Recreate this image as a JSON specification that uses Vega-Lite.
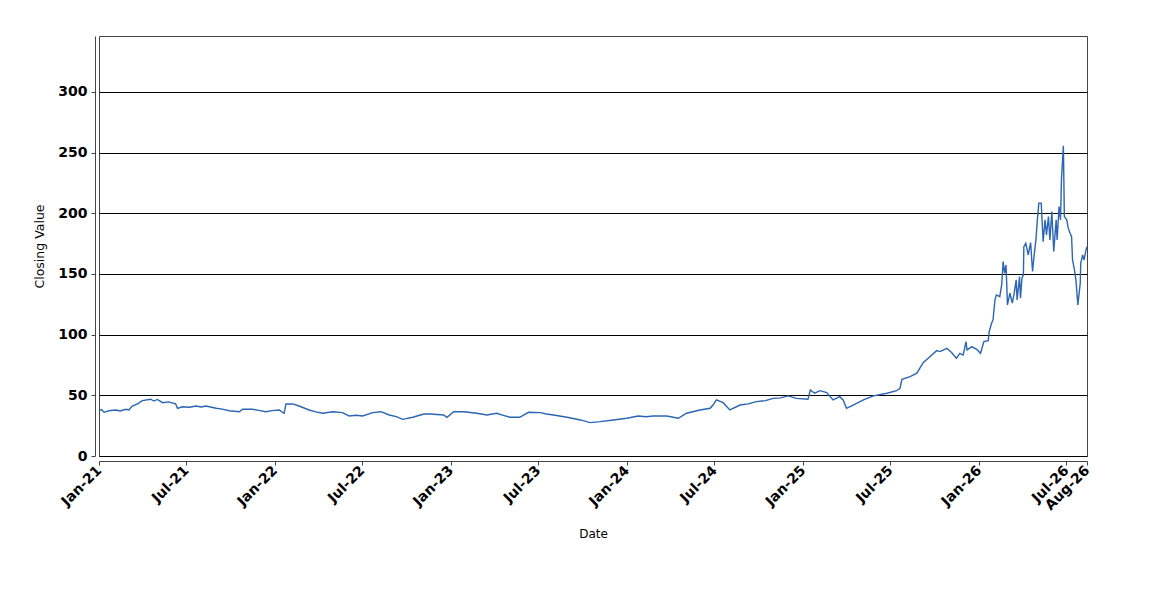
{
  "$schema": "https://vega.github.io/schema/vega-lite/v6.json",
  "autosize": {"type": "none"},
  "padding": {"left": 99, "top": 36, "right": 63, "bottom": 144},
  "width": 988,
  "height": 420,
  "background": "white",
  "config": {
    "view": {"stroke": "#444444", "strokeWidth": 1},
    "axis": {
      "labelFont": "DejaVu Sans",
      "titleFont": "DejaVu Sans",
      "labelColor": "#000000",
      "titleColor": "#000000",
      "domainColor": "#444444",
      "tickColor": "#444444"
    }
  },
  "data": {
    "values": [
      {"d": "2021-01-01", "v": 37.3}, {"d": "2021-01-06", "v": 38.2}, {"d": "2021-01-12", "v": 36}, {"d": "2021-01-21", "v": 37.3},
      {"d": "2021-02-05", "v": 37.9}, {"d": "2021-02-14", "v": 37.1}, {"d": "2021-02-26", "v": 38.5}, {"d": "2021-03-04", "v": 38},
      {"d": "2021-03-11", "v": 41.2}, {"d": "2021-03-22", "v": 42.9}, {"d": "2021-04-01", "v": 45.6},
      {"d": "2021-04-18", "v": 46.8}, {"d": "2021-04-25", "v": 45.3}, {"d": "2021-05-02", "v": 46.6}, {"d": "2021-05-13", "v": 43.9},
      {"d": "2021-05-25", "v": 44.6}, {"d": "2021-06-09", "v": 42.9}, {"d": "2021-06-13", "v": 39.3}, {"d": "2021-06-23", "v": 40.6},
      {"d": "2021-07-08", "v": 40.2}, {"d": "2021-07-21", "v": 41.2}, {"d": "2021-08-01", "v": 40.4}, {"d": "2021-08-11", "v": 41.2}, {"d": "2021-09-01", "v": 39.3},
      {"d": "2021-09-14", "v": 38.6}, {"d": "2021-09-28", "v": 37.3}, {"d": "2021-10-19", "v": 36.5}, {"d": "2021-10-26", "v": 38.5},
      {"d": "2021-11-16", "v": 38.5}, {"d": "2021-11-28", "v": 37.6}, {"d": "2021-12-13", "v": 36.5}, {"d": "2021-12-26", "v": 37.4}, {"d": "2022-01-10", "v": 37.9},
      {"d": "2022-01-20", "v": 35.2}, {"d": "2022-01-24", "v": 42.9}, {"d": "2022-02-07", "v": 42.9},
      {"d": "2022-02-20", "v": 41.2}, {"d": "2022-03-13", "v": 37.9}, {"d": "2022-03-27", "v": 36.4}, {"d": "2022-04-10", "v": 35.2},
      {"d": "2022-05-01", "v": 36.5}, {"d": "2022-05-21", "v": 35.7}, {"d": "2022-06-04", "v": 33},
      {"d": "2022-06-18", "v": 33.6}, {"d": "2022-07-02", "v": 33}, {"d": "2022-07-23", "v": 35.7}, {"d": "2022-08-09", "v": 36.5},
      {"d": "2022-08-26", "v": 33.8}, {"d": "2022-09-10", "v": 32.4}, {"d": "2022-09-23", "v": 30.2}, {"d": "2022-10-14", "v": 31.9},
      {"d": "2022-10-30", "v": 33.8}, {"d": "2022-11-07", "v": 34.6}, {"d": "2022-11-19", "v": 34.6},
      {"d": "2022-12-17", "v": 33.8}, {"d": "2022-12-24", "v": 31.9}, {"d": "2023-01-07", "v": 36.5},
      {"d": "2023-01-28", "v": 36.5}, {"d": "2023-02-24", "v": 35.2}, {"d": "2023-03-17", "v": 33.8},
      {"d": "2023-04-06", "v": 35.2}, {"d": "2023-04-20", "v": 33.5}, {"d": "2023-05-04", "v": 31.9}, {"d": "2023-05-24", "v": 31.9},
      {"d": "2023-06-11", "v": 36}, {"d": "2023-07-06", "v": 35.7}, {"d": "2023-07-18", "v": 34.6}, {"d": "2023-08-02", "v": 33.8},
      {"d": "2023-08-30", "v": 31.9}, {"d": "2023-09-27", "v": 29.7}, {"d": "2023-10-17", "v": 27.5},
      {"d": "2023-11-07", "v": 28.3}, {"d": "2023-12-04", "v": 29.7}, {"d": "2024-01-01", "v": 31.1},
      {"d": "2024-01-25", "v": 33}, {"d": "2024-02-10", "v": 32.3}, {"d": "2024-02-25", "v": 33}, {"d": "2024-03-24", "v": 33},
      {"d": "2024-04-17", "v": 31.1}, {"d": "2024-05-04", "v": 35.2}, {"d": "2024-06-01", "v": 37.9},
      {"d": "2024-06-22", "v": 39.3}, {"d": "2024-06-28", "v": 42}, {"d": "2024-07-05", "v": 46.2},
      {"d": "2024-07-19", "v": 43.9}, {"d": "2024-08-02", "v": 37.9}, {"d": "2024-08-23", "v": 42},
      {"d": "2024-09-09", "v": 42.9}, {"d": "2024-09-26", "v": 44.8}, {"d": "2024-10-15", "v": 45.6}, {"d": "2024-10-31", "v": 47.5},
      {"d": "2024-11-15", "v": 47.9}, {"d": "2024-12-01", "v": 49.5}, {"d": "2024-12-18", "v": 47.5}, {"d": "2025-01-11", "v": 46.7},
      {"d": "2025-01-16", "v": 54.4}, {"d": "2025-01-25", "v": 51.7}, {"d": "2025-02-05", "v": 53.8},
      {"d": "2025-02-19", "v": 52.2}, {"d": "2025-03-04", "v": 46.2}, {"d": "2025-03-18", "v": 48.9},
      {"d": "2025-03-25", "v": 46.2}, {"d": "2025-04-01", "v": 39.3}, {"d": "2025-04-15", "v": 42},
      {"d": "2025-05-06", "v": 46.2}, {"d": "2025-05-27", "v": 49.5}, {"d": "2025-06-24", "v": 51.7},
      {"d": "2025-07-14", "v": 53.8}, {"d": "2025-07-21", "v": 55.8}, {"d": "2025-07-25", "v": 63.2},
      {"d": "2025-08-11", "v": 65.4}, {"d": "2025-08-25", "v": 68.2}, {"d": "2025-09-07", "v": 76.9},
      {"d": "2025-09-21", "v": 81.8}, {"d": "2025-10-05", "v": 86.8}, {"d": "2025-10-12", "v": 86},
      {"d": "2025-10-26", "v": 88.7}, {"d": "2025-11-05", "v": 85.2}, {"d": "2025-11-15", "v": 80.5},
      {"d": "2025-11-22", "v": 84.6}, {"d": "2025-11-29", "v": 83.2}, {"d": "2025-12-05", "v": 94.2},
      {"d": "2025-12-07", "v": 87.4}, {"d": "2025-12-17", "v": 90.1}, {"d": "2025-12-27", "v": 87.9},
      {"d": "2026-01-04", "v": 84.6}, {"d": "2026-01-11", "v": 94.2}, {"d": "2026-01-20", "v": 95},
      {"d": "2026-01-22", "v": 102.4}, {"d": "2026-01-27", "v": 109.4}, {"d": "2026-01-30", "v": 112.1},
      {"d": "2026-02-03", "v": 128.6}, {"d": "2026-02-06", "v": 132.7}, {"d": "2026-02-13", "v": 131.3},
      {"d": "2026-02-17", "v": 140.9}, {"d": "2026-02-20", "v": 160.1}, {"d": "2026-02-23", "v": 150.6},
      {"d": "2026-02-26", "v": 157.4}, {"d": "2026-03-01", "v": 124.5}, {"d": "2026-03-06", "v": 134.1},
      {"d": "2026-03-11", "v": 125.9}, {"d": "2026-03-15", "v": 134.1}, {"d": "2026-03-19", "v": 145.1},
      {"d": "2026-03-21", "v": 128.6}, {"d": "2026-03-26", "v": 147.8}, {"d": "2026-03-28", "v": 130},
      {"d": "2026-03-31", "v": 146.5}, {"d": "2026-04-03", "v": 149.2}, {"d": "2026-04-04", "v": 172.5},
      {"d": "2026-04-08", "v": 175.3}, {"d": "2026-04-13", "v": 165.7}, {"d": "2026-04-18", "v": 175.8},
      {"d": "2026-04-22", "v": 152}, {"d": "2026-04-25", "v": 164}, {"d": "2026-04-29", "v": 178},
      {"d": "2026-05-02", "v": 194.5}, {"d": "2026-05-05", "v": 208.3}, {"d": "2026-05-10", "v": 208.3},
      {"d": "2026-05-14", "v": 176.6}, {"d": "2026-05-18", "v": 194.5}, {"d": "2026-05-21", "v": 182.2},
      {"d": "2026-05-25", "v": 197.2}, {"d": "2026-05-28", "v": 178}, {"d": "2026-06-01", "v": 201.4},
      {"d": "2026-06-05", "v": 168.4}, {"d": "2026-06-10", "v": 194.5}, {"d": "2026-06-12", "v": 178},
      {"d": "2026-06-16", "v": 205.5}, {"d": "2026-06-19", "v": 194.5}, {"d": "2026-06-21", "v": 227.5},
      {"d": "2026-06-25", "v": 255.5}, {"d": "2026-06-27", "v": 197.2}, {"d": "2026-07-02", "v": 194.5},
      {"d": "2026-07-05", "v": 187.7}, {"d": "2026-07-09", "v": 183.5}, {"d": "2026-07-12", "v": 180.7},
      {"d": "2026-07-14", "v": 161.5}, {"d": "2026-07-18", "v": 153.3}, {"d": "2026-07-21", "v": 145.1},
      {"d": "2026-07-25", "v": 124.5}, {"d": "2026-07-30", "v": 142.3}, {"d": "2026-07-31", "v": 158.8},
      {"d": "2026-08-04", "v": 165.7}, {"d": "2026-08-07", "v": 161.5}, {"d": "2026-08-11", "v": 169.8},
      {"d": "2026-08-13", "v": 172.5}
    ]
  },
  "mark": {"type": "line", "color": "#2b65b3", "strokeWidth": 1.4},
  "encoding": {
    "x": {
      "field": "d",
      "type": "temporal",
      "title": "Date",
      "scale": {
        "type": "utc",
        "domain": [
          {"year": 2021, "month": 1, "date": 1, "utc": true},
          {"year": 2026, "month": 8, "date": 13, "utc": true}
        ]
      },
      "axis": {
        "offset": 5,
        "grid": false,
        "labelExpr": "utcFormat(datum.value, '%b-%y')",
        "values": [
          {"year": 2021, "month": 1, "date": 1, "utc": true},
          {"year": 2021, "month": 7, "date": 1, "utc": true},
          {"year": 2022, "month": 1, "date": 1, "utc": true},
          {"year": 2022, "month": 7, "date": 1, "utc": true},
          {"year": 2023, "month": 1, "date": 1, "utc": true},
          {"year": 2023, "month": 7, "date": 1, "utc": true},
          {"year": 2024, "month": 1, "date": 1, "utc": true},
          {"year": 2024, "month": 7, "date": 1, "utc": true},
          {"year": 2025, "month": 1, "date": 1, "utc": true},
          {"year": 2025, "month": 7, "date": 1, "utc": true},
          {"year": 2026, "month": 1, "date": 1, "utc": true},
          {"year": 2026, "month": 7, "date": 1, "utc": true},
          {"year": 2026, "month": 8, "date": 13, "utc": true}
        ],
        "labelAngle": -45,
        "labelAlign": "right",
        "labelBaseline": "middle",
        "labelFontSize": 14,
        "labelFontWeight": "bold",
        "labelOverlap": false,
        "labelPadding": 3,
        "tickSize": 4,
        "titleFontSize": 12,
        "titleFontWeight": "normal",
        "titlePadding": 16
      }
    },
    "y": {
      "field": "v",
      "type": "quantitative",
      "title": "Closing Value",
      "scale": {"domain": [0, 346], "nice": false},
      "axis": {
        "offset": 4,
        "values": [0, 50, 100, 150, 200, 250, 300],
        "gridColor": "#000000",
        "gridWidth": 1,
        "gridOpacity": 1,
        "labelFontSize": 14,
        "labelFontWeight": "bold",
        "labelPadding": 4,
        "tickSize": 4,
        "titleFontSize": 12.5,
        "titleFontWeight": "normal",
        "titlePadding": 11
      }
    }
  }
}
